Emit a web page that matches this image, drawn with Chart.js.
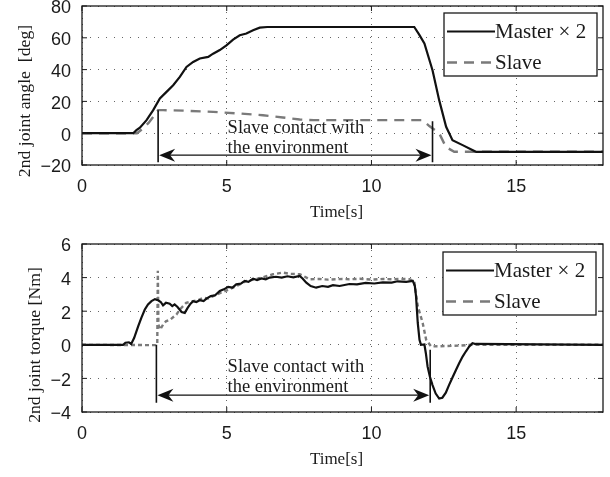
<!DOCTYPE html>
<html>
<head>
<meta charset="utf-8">
<script src="https://cdn.jsdelivr.net/npm/chart.js@4.4.1/dist/chart.umd.min.js"></script>
<style>
  html, body { margin: 0; padding: 0; background: #fff; }
  .wrap { width: 610px; position: relative; }
</style>
</head>
<body>
<div class="wrap" style="height:237px"><canvas id="angleChart"></canvas></div>
<div class="wrap" style="height:240px"><canvas id="torqueChart"></canvas></div>
<script>
// ---- data ----
var seriesNames = ['Master \u00d7 2', 'Slave'];

// 2nd joint angle [deg]
var angleMasterT = [0, 1.77, 1.88, 2.0, 2.23, 2.46, 2.69, 2.92, 3.15, 3.38, 3.61, 3.84, 4.07, 4.36, 4.53, 4.76, 4.99, 5.22, 5.45, 5.68, 5.91, 6.14, 6.4, 7, 8, 9, 10, 11, 11.48, 11.65, 11.83, 12.11, 12.34, 12.58, 12.8, 13.15, 13.61, 18];
var angleMaster  = [0, 0, 1.9, 3.5, 8.2, 14.5, 21.8, 26, 30.2, 35.4, 41.7, 44.8, 47, 48, 50, 52.3, 55.3, 58.9, 61.6, 62.7, 64.8, 66.4, 66.8, 66.8, 66.8, 66.8, 66.8, 66.8, 66.8, 62, 56.4, 39.6, 20.8, 4, -4.4, -7.5, -11.7, -11.7];
var angleSlaveT  = [0, 1.9, 2.11, 2.3, 2.45, 2.63, 2.8, 3.5, 4.53, 5.5, 6.25, 6.94, 7.52, 8, 9, 10, 11, 11.76, 12.0, 12.34, 12.57, 12.86, 18];
var angleSlave   = [0, 0, 3, 6.5, 10, 14.5, 14.5, 14.2, 13.4, 12.3, 11.3, 9.9, 8.6, 8.2, 8.2, 8.2, 8.2, 8.2, 4.5, 0, -8.6, -11.7, -11.7];

// 2nd joint torque [Nm]
var torqueMasterT = [0, 1.42, 1.5, 1.62, 1.7, 1.8, 1.94, 2.05, 2.17, 2.28, 2.4, 2.52, 2.63, 2.72, 2.8, 2.9, 3.03, 3.12, 3.2, 3.3, 3.44, 3.55, 3.65, 3.75, 3.84, 3.95, 4.07, 4.2, 4.3, 4.45, 4.6, 4.76, 4.9, 5.05, 5.2, 5.33, 5.5, 5.62, 5.75, 5.91, 6.05, 6.2, 6.35, 6.48, 6.7, 6.9, 7.1, 7.3, 7.52, 7.62, 7.75, 7.9, 8.09, 8.3, 8.5, 8.67, 8.9, 9.24, 9.5, 9.8, 10.1, 10.39, 10.7, 10.9, 11.2, 11.43, 11.5, 11.54, 11.6, 11.66, 11.71, 11.83, 11.88, 11.94, 12.02, 12.11, 12.22, 12.34, 12.45, 12.57, 12.68, 12.8, 12.92, 13.03, 13.15, 13.26, 13.38, 13.49, 13.6, 18];
var torqueMaster  = [0, 0, 0.12, 0.15, 0.05, 0.4, 1.1, 1.6, 2.1, 2.4, 2.6, 2.72, 2.65, 2.55, 2.35, 2.5, 2.45, 2.3, 2.4, 2.25, 1.95, 1.9, 2.2, 2.45, 2.6, 2.55, 2.65, 2.6, 2.75, 2.9, 2.95, 3.2, 3.3, 3.45, 3.4, 3.6, 3.65, 3.8, 3.75, 3.93, 3.85, 3.95, 3.9, 4.0, 4.05, 4.0, 4.08, 4.02, 4.1, 3.95, 3.7, 3.5, 3.4, 3.5, 3.45, 3.55, 3.5, 3.62, 3.6, 3.68, 3.65, 3.72, 3.7, 3.78, 3.75, 3.8, 3.5, 2.9, 1.3, 0.3, 0, 0.02, -0.5, -1.3, -1.9, -2.4, -2.9, -3.2, -3.15, -2.85, -2.4, -1.95, -1.5, -1.1, -0.7, -0.4, -0.1, 0.1, 0.05, 0];
var torqueSlaveT  = [0, 2.55, 2.6, 2.62, 2.64, 2.7, 2.8, 2.9, 3.05, 3.26, 3.38, 3.49, 3.6, 3.84, 4.0, 4.2, 4.35, 4.53, 4.8, 5.1, 5.4, 5.68, 6.0, 6.37, 6.6, 6.94, 7.2, 7.52, 7.7, 7.86, 8.2, 8.5, 9.0, 9.24, 9.6, 10.0, 10.4, 10.7, 11.0, 11.31, 11.48, 11.54, 11.6, 11.77, 11.89, 12.06, 13.0, 13.5, 18];
var torqueSlave   = [0, -0.02, 0, 4.4, 1.2, 0.9, 1.2, 1.4, 1.5, 1.8, 2.1, 2.3, 2.5, 2.6, 2.65, 2.8, 2.75, 2.9, 3.1, 3.3, 3.55, 3.8, 3.9, 4.08, 4.2, 4.3, 4.22, 4.2, 4.05, 3.9, 3.92, 3.88, 3.92, 3.9, 3.93, 3.88, 3.92, 3.9, 3.93, 3.9, 3.8, 3.0, 2.3, 1.3, 0.3, -0.1, -0.05, 0, 0];

// contact interval annotation (time [s], values in axis units)
var angleContact  = { start: 2.63, end: 12.11, startTop: 14.5, endTop: 7.5, bottom: -18.3, arrowAt: -13.8, textAt: 5.03, line1: 2.9, line2: -9.2 };
var torqueContact = { start: 2.57, end: 12.03, startTop: 0, endTop: -0.3, bottom: -3.45, arrowAt: -3.0, textAt: 5.03, line1: -1.33, line2: -2.52 };

function toPoints(t, v) {
  return t.map(function (x, i) { return { x: x, y: v[i] }; });
}

var tickFont = { family: "'Liberation Sans Narrow', 'Liberation Sans', Arial, sans-serif", size: 18 };
var serif = "'Liberation Serif', 'Times New Roman', serif";

function arrowHead(ctx, x, y, dir) {
  ctx.beginPath();
  ctx.moveTo(x, y);
  ctx.lineTo(x + dir * 16, y - 6.5);
  ctx.lineTo(x + dir * 11, y);
  ctx.lineTo(x + dir * 16, y + 6.5);
  ctx.closePath();
  ctx.fill();
}

var decor = {
  id: 'decor',
  afterDatasetsDraw: function (chart, args, o) {
    var ctx = chart.ctx, a = chart.chartArea, x = chart.scales.x, y = chart.scales.y;
    var c = o.contact;
    ctx.save();
    // frame
    ctx.strokeStyle = '#1a1a1a';
    ctx.lineWidth = 1.3;
    ctx.strokeRect(a.left, a.top, a.right - a.left, a.bottom - a.top);
    // inward ticks on all sides
    ctx.lineWidth = 1;
    x.ticks.forEach(function (t) {
      var px = x.getPixelForValue(t.value);
      ctx.beginPath();
      ctx.moveTo(px, a.bottom); ctx.lineTo(px, a.bottom - 5);
      ctx.moveTo(px, a.top); ctx.lineTo(px, a.top + 5);
      ctx.stroke();
    });
    y.ticks.forEach(function (t) {
      var py = y.getPixelForValue(t.value);
      ctx.beginPath();
      ctx.moveTo(a.left, py); ctx.lineTo(a.left + 5, py);
      ctx.moveTo(a.right, py); ctx.lineTo(a.right - 5, py);
      ctx.stroke();
    });
    // contact interval
    var xs = x.getPixelForValue(c.start), xe = x.getPixelForValue(c.end);
    var yb = y.getPixelForValue(c.bottom), ya = y.getPixelForValue(c.arrowAt);
    ctx.strokeStyle = '#111';
    ctx.fillStyle = '#111';
    ctx.lineWidth = 1.6;
    ctx.beginPath();
    ctx.moveTo(xs, y.getPixelForValue(c.startTop)); ctx.lineTo(xs, yb);
    ctx.moveTo(xe, y.getPixelForValue(c.endTop)); ctx.lineTo(xe, yb);
    ctx.stroke();
    ctx.lineWidth = 1.3;
    ctx.beginPath();
    ctx.moveTo(xs + 10, ya); ctx.lineTo(xe - 10, ya);
    ctx.stroke();
    arrowHead(ctx, xs + 1, ya, 1);
    arrowHead(ctx, xe - 1, ya, -1);
    ctx.font = '18.5px ' + serif;
    ctx.textAlign = 'left';
    ctx.textBaseline = 'middle';
    ctx.fillStyle = '#1a1a1a';
    ctx.fillText('Slave contact with', x.getPixelForValue(c.textAt), y.getPixelForValue(c.line1));
    ctx.fillText('the environment', x.getPixelForValue(c.textAt), y.getPixelForValue(c.line2));
    ctx.restore();
  },
  afterDraw: function (chart, args, o) {
    var ctx = chart.ctx, a = chart.chartArea;
    var ds = chart.data.datasets;
    ctx.save();
    // legend box
    var bw = 153, bh = 63;
    var bx = a.right - o.legendRight - bw, by = a.top + o.legendTop;
    ctx.fillStyle = '#fff';
    ctx.fillRect(bx, by, bw, bh);
    ctx.strokeStyle = '#1a1a1a';
    ctx.lineWidth = 1.3;
    ctx.strokeRect(bx, by, bw, bh);
    var rows = [by + 18.5, by + 49.5];
    ctx.font = '21px ' + serif;
    ctx.textBaseline = 'middle';
    ctx.textAlign = 'left';
    ds.forEach(function (d, i) {
      ctx.strokeStyle = d.borderColor;
      ctx.lineWidth = d.borderWidth;
      ctx.setLineDash(i === 0 ? [] : [10, 7]);
      ctx.beginPath();
      ctx.moveTo(bx + 3, rows[i]); ctx.lineTo(bx + 51, rows[i]);
      ctx.stroke();
      ctx.setLineDash([]);
      ctx.fillStyle = '#1a1a1a';
      ctx.fillText(d.label, bx + 51, rows[i] + 1);
    });
    // axis titles
    ctx.font = '17px ' + serif;
    ctx.textAlign = 'center';
    ctx.fillText('Time[s]', a.left + (a.right - a.left) / 2 - 6, a.bottom + 47.5);
    ctx.font = '17.7px ' + serif;
    ctx.translate(a.left - o.yTitleOffset, a.top + (a.bottom - a.top) / 2 + o.yTitleShift);
    ctx.rotate(-Math.PI / 2);
    ctx.fillText(o.yTitle, 0, 0);
    ctx.restore();
  }
};

function makeChart(id, cfg) {
  return new Chart(document.getElementById(id), {
    type: 'line',
    data: {
      datasets: [
        { label: seriesNames[0], data: toPoints(cfg.masterT, cfg.master), borderColor: '#111111', borderWidth: 2.2, pointRadius: 0, tension: 0, fill: false },
        { label: seriesNames[1], data: toPoints(cfg.slaveT, cfg.slave), borderColor: '#7a7a7a', borderWidth: 2.4, borderDash: cfg.dash, pointRadius: 0, tension: 0, fill: false }
      ]
    },
    options: {
      responsive: true,
      maintainAspectRatio: false,
      animation: false,
      events: [],
      layout: { padding: { left: 0, right: 7, top: cfg.top, bottom: 0 } },
      plugins: {
        legend: { display: false },
        tooltip: { enabled: false },
        decor: { contact: cfg.contact, yTitle: cfg.yTitle, yTitleOffset: cfg.yTitleOffset, yTitleShift: cfg.yTitleShift, legendRight: cfg.legendRight, legendTop: cfg.legendTop }
      },
      scales: {
        x: {
          type: 'linear', min: 0, max: 18,
          ticks: { stepSize: 5, includeBounds: false, font: tickFont, color: '#1a1a1a', padding: 11, maxRotation: 0 },
          grid: { color: '#666', lineWidth: 1, drawTicks: false },
          border: { display: false, dash: [1, 5] },
          afterFit: function (s) { s.height = cfg.xHeight; s.paddingLeft = 0; s.paddingRight = 0; }
        },
        y: {
          min: cfg.yMin, max: cfg.yMax,
          ticks: { stepSize: cfg.yStep, font: tickFont, color: '#1a1a1a', padding: 11, labelOffset: 2.5,
                   callback: function (v) { return String(v).replace('-', '\u2212'); } },
          grid: { color: '#666', lineWidth: 1, drawTicks: false },
          border: { display: false, dash: [1, 7] },
          afterFit: function (s) { s.width = 82; s.paddingTop = 0; s.paddingBottom = 0; }
        }
      }
    },
    plugins: [decor]
  });
}

makeChart('angleChart', {
  masterT: angleMasterT, master: angleMaster, slaveT: angleSlaveT, slave: angleSlave,
  dash: [10, 7], yMin: -20, yMax: 80, yStep: 20, top: 6, xHeight: 72,
  contact: angleContact, yTitle: '2nd joint angle  [deg]', yTitleOffset: 57, yTitleShift: 15.5,
  legendRight: 6, legendTop: 7
});
makeChart('torqueChart', {
  masterT: torqueMasterT, master: torqueMaster, slaveT: torqueSlaveT, slave: torqueSlave,
  dash: [4, 3], yMin: -4, yMax: 6, yStep: 2, top: 7, xHeight: 65,
  contact: torqueContact, yTitle: '2nd joint torque [Nm]', yTitleOffset: 47, yTitleShift: 17,
  legendRight: 7, legendTop: 8
});
</script>
</body>
</html>
